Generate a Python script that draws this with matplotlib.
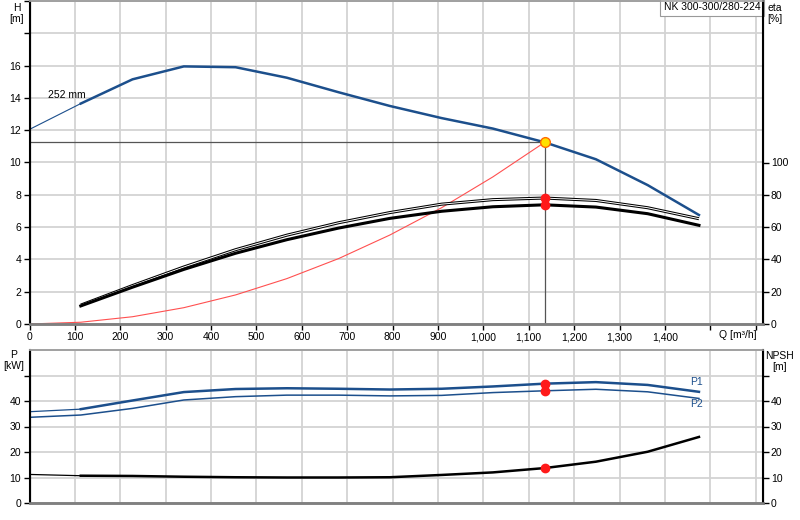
import matplotlib
matplotlib.use('Agg')
import matplotlib.pyplot as plt
from matplotlib.ticker import FixedLocator, FuncFormatter

plt.rcParams['font.family'] = ['Liberation Sans', 'DejaVu Sans']
plt.rcParams['font.size'] = 7.5

# Kurvendaten
q_pts = [113, 227, 340, 454, 567, 681, 794, 908, 1021, 1135, 1248, 1362, 1475]
h_pump = [13.65, 15.15, 15.95, 15.9, 15.25, 14.35, 13.5, 12.75, 12.1, 11.25, 10.2, 8.6, 6.75]
h_start = [12.05, 13.65]          # duenner Teil von Q=0 bis 113
eta_pump = [11.7, 23.8, 35.3, 46.0, 55.0, 62.7, 69.0, 74.2, 77.0, 78.0, 76.5, 72.0, 65.2]
eta_total = [11.2, 22.8, 33.8, 43.8, 52.2, 59.4, 65.4, 69.8, 72.6, 73.8, 72.4, 68.3, 61.1]

q_sys = [0, 113, 227, 340, 454, 567, 681, 794, 908, 1021, 1135]
h_sys = [0, 0.11, 0.45, 1.01, 1.8, 2.81, 4.05, 5.51, 7.2, 9.11, 11.25]

q_low = [0, 113, 227, 340, 454, 567, 681, 794, 908, 1021, 1135, 1248, 1362, 1475]
p1 = [35.8, 36.8, 40.2, 43.5, 44.7, 45.0, 44.8, 44.5, 44.8, 45.7, 46.8, 47.4, 46.3, 43.6]
p2 = [33.6, 34.5, 37.1, 40.4, 41.7, 42.3, 42.3, 42.0, 42.2, 43.3, 44.0, 44.6, 43.6, 41.0]
npsh = [11.2, 10.7, 10.6, 10.3, 10.1, 10.0, 10.0, 10.1, 11.0, 12.0, 13.7, 16.2, 20.1, 25.9]

q_duty = 1135
h_duty = 11.25
eta_duty = [78.0, 73.8]
p_duty = [46.8, 44.0]
npsh_duty = 13.7

pump_name = 'NK 300-300/280-224'
diameter = '252 mm'

blue = '#1c4f8c'
grid_c = '#d3d3d3'
q_max = 1615

fig = plt.figure(figsize=(8, 5.2), dpi=100)
ax = fig.add_axes([29.5 / 800, 1 - 324 / 520, (762.5 - 29.5) / 800, 323 / 520])
ax2 = ax.twinx()
bx = fig.add_axes([29.5 / 800, 1 - 503 / 520, (762.5 - 29.5) / 800, 153 / 520])
bx2 = bx.twinx()


def style_axes(a, a_r, ylim, yticks, ylabels, rlim, rticks, rlabels):
    a.set_xlim(0, q_max)
    a.set_ylim(*ylim)
    a_r.set_ylim(*rlim)
    a.xaxis.set_major_locator(FixedLocator(range(0, 1700, 100)))
    a.yaxis.set_major_locator(FixedLocator(yticks))
    a.yaxis.set_major_formatter(FuncFormatter(lambda v, p: '%d' % v if v in ylabels else ''))
    a_r.yaxis.set_major_locator(FixedLocator(rticks))
    a_r.yaxis.set_major_formatter(FuncFormatter(lambda v, p: '%d' % v if v in rlabels else ''))
    a.grid(True, color=grid_c, lw=1.3)
    a.set_axisbelow(True)
    a.spines['left'].set_color('black')
    a.spines['left'].set_linewidth(1.5)
    a_r.spines['right'].set_color('black')
    a_r.spines['right'].set_linewidth(1.5)
    for aa in (a, a_r):
        aa.spines['bottom'].set_color('#808080')
        aa.spines['bottom'].set_linewidth(1.8)
        aa.spines['top'].set_color('#a0a0a0')
        aa.spines['top'].set_linewidth(1.2)
        aa.tick_params(length=4, width=1, pad=2, labelsize=7.5)


style_axes(ax, ax2, (0, 20), range(0, 21, 2), range(0, 17, 2),
           (0, 200), range(0, 101, 20), range(0, 101, 20))
ax.xaxis.set_major_formatter(FuncFormatter(lambda v, p: '{:,.0f}'.format(v) if v <= 1400 else ''))

style_axes(bx, bx2, (0, 60), range(0, 51, 10), range(0, 41, 10),
           (0, 60), range(0, 51, 10), range(0, 41, 10))
bx.tick_params(axis='x', length=0, labelbottom=False)

# Foerderhoehe
ax.plot([0, q_pts[0]], h_start, color=blue, lw=0.8)
ax.plot(q_pts, h_pump, color=blue, lw=1.8)
ax.plot(q_sys, h_sys, color='#ff5050', lw=0.8)
ax.plot([0, q_duty], [h_duty, h_duty], color='#555555', lw=0.9)
ax.plot([q_duty, q_duty], [0, h_duty], color='#555555', lw=0.9)

# Wirkungsgrade
ax2.plot(q_pts, eta_pump, color='black', lw=2.2, solid_capstyle='butt')
ax2.plot(q_pts, eta_pump, color='white', lw=0.7)
ax2.plot(q_pts, eta_total, color='black', lw=2.2)
ax2.plot([q_duty] * 2, eta_duty, 'o', color='#ff1a1a', ms=6, zorder=5)
ax.plot(q_duty, h_duty, 'o', mfc='#ffe000', mec='#ff6a00', mew=1, ms=7, zorder=6)

ax.text(40, 14.15, diameter, ha='left', va='center', fontsize=7.5)
ax.text(0.997, 0.997, pump_name, transform=ax.transAxes, ha='right', va='top', fontsize=7.5,
        bbox=dict(boxstyle='square,pad=0.35', fc='white', ec='#999999', lw=0.8))

# Leistung und NPSH
bx.plot(q_low[:2], p1[:2], color=blue, lw=0.9)
bx.plot(q_low[1:], p1[1:], color=blue, lw=1.8)
bx.plot(q_low, p2, color=blue, lw=1.1)
bx2.plot(q_low[:2], npsh[:2], color='black', lw=0.9)
bx2.plot(q_low[1:], npsh[1:], color='black', lw=1.8)
bx.plot([q_duty] * 2, p_duty, 'o', color='#ff1a1a', ms=6, zorder=5)
bx2.plot(q_duty, npsh_duty, 'o', color='#ff1a1a', ms=6, zorder=5)
bx.text(1469, 47.3, 'P1', color=blue, ha='center', va='center', fontsize=7.5)
bx.text(1469, 38.8, 'P2', color=blue, ha='center', va='center', fontsize=7.5)

# Achsenbeschriftungen
fig.text(17 / 800, 1 - 3 / 520, 'H\n[m]', ha='center', va='top', fontsize=7.5, linespacing=1.1)
fig.text(775 / 800, 1 - 3 / 520, 'eta\n[%]', ha='center', va='top', fontsize=7.5, linespacing=1.1)
fig.text(14 / 800, 1 - 350 / 520, 'P\n[kW]', ha='center', va='top', fontsize=7.5, linespacing=1.1)
fig.text(780 / 800, 1 - 351 / 520, 'NPSH\n[m]', ha='center', va='top', fontsize=7.5, linespacing=1.1)
fig.text(757 / 800, 1 - 335 / 520, 'Q [m³/h]', ha='right', va='center', fontsize=7.5)

fig.savefig('out.png', dpi=100)
